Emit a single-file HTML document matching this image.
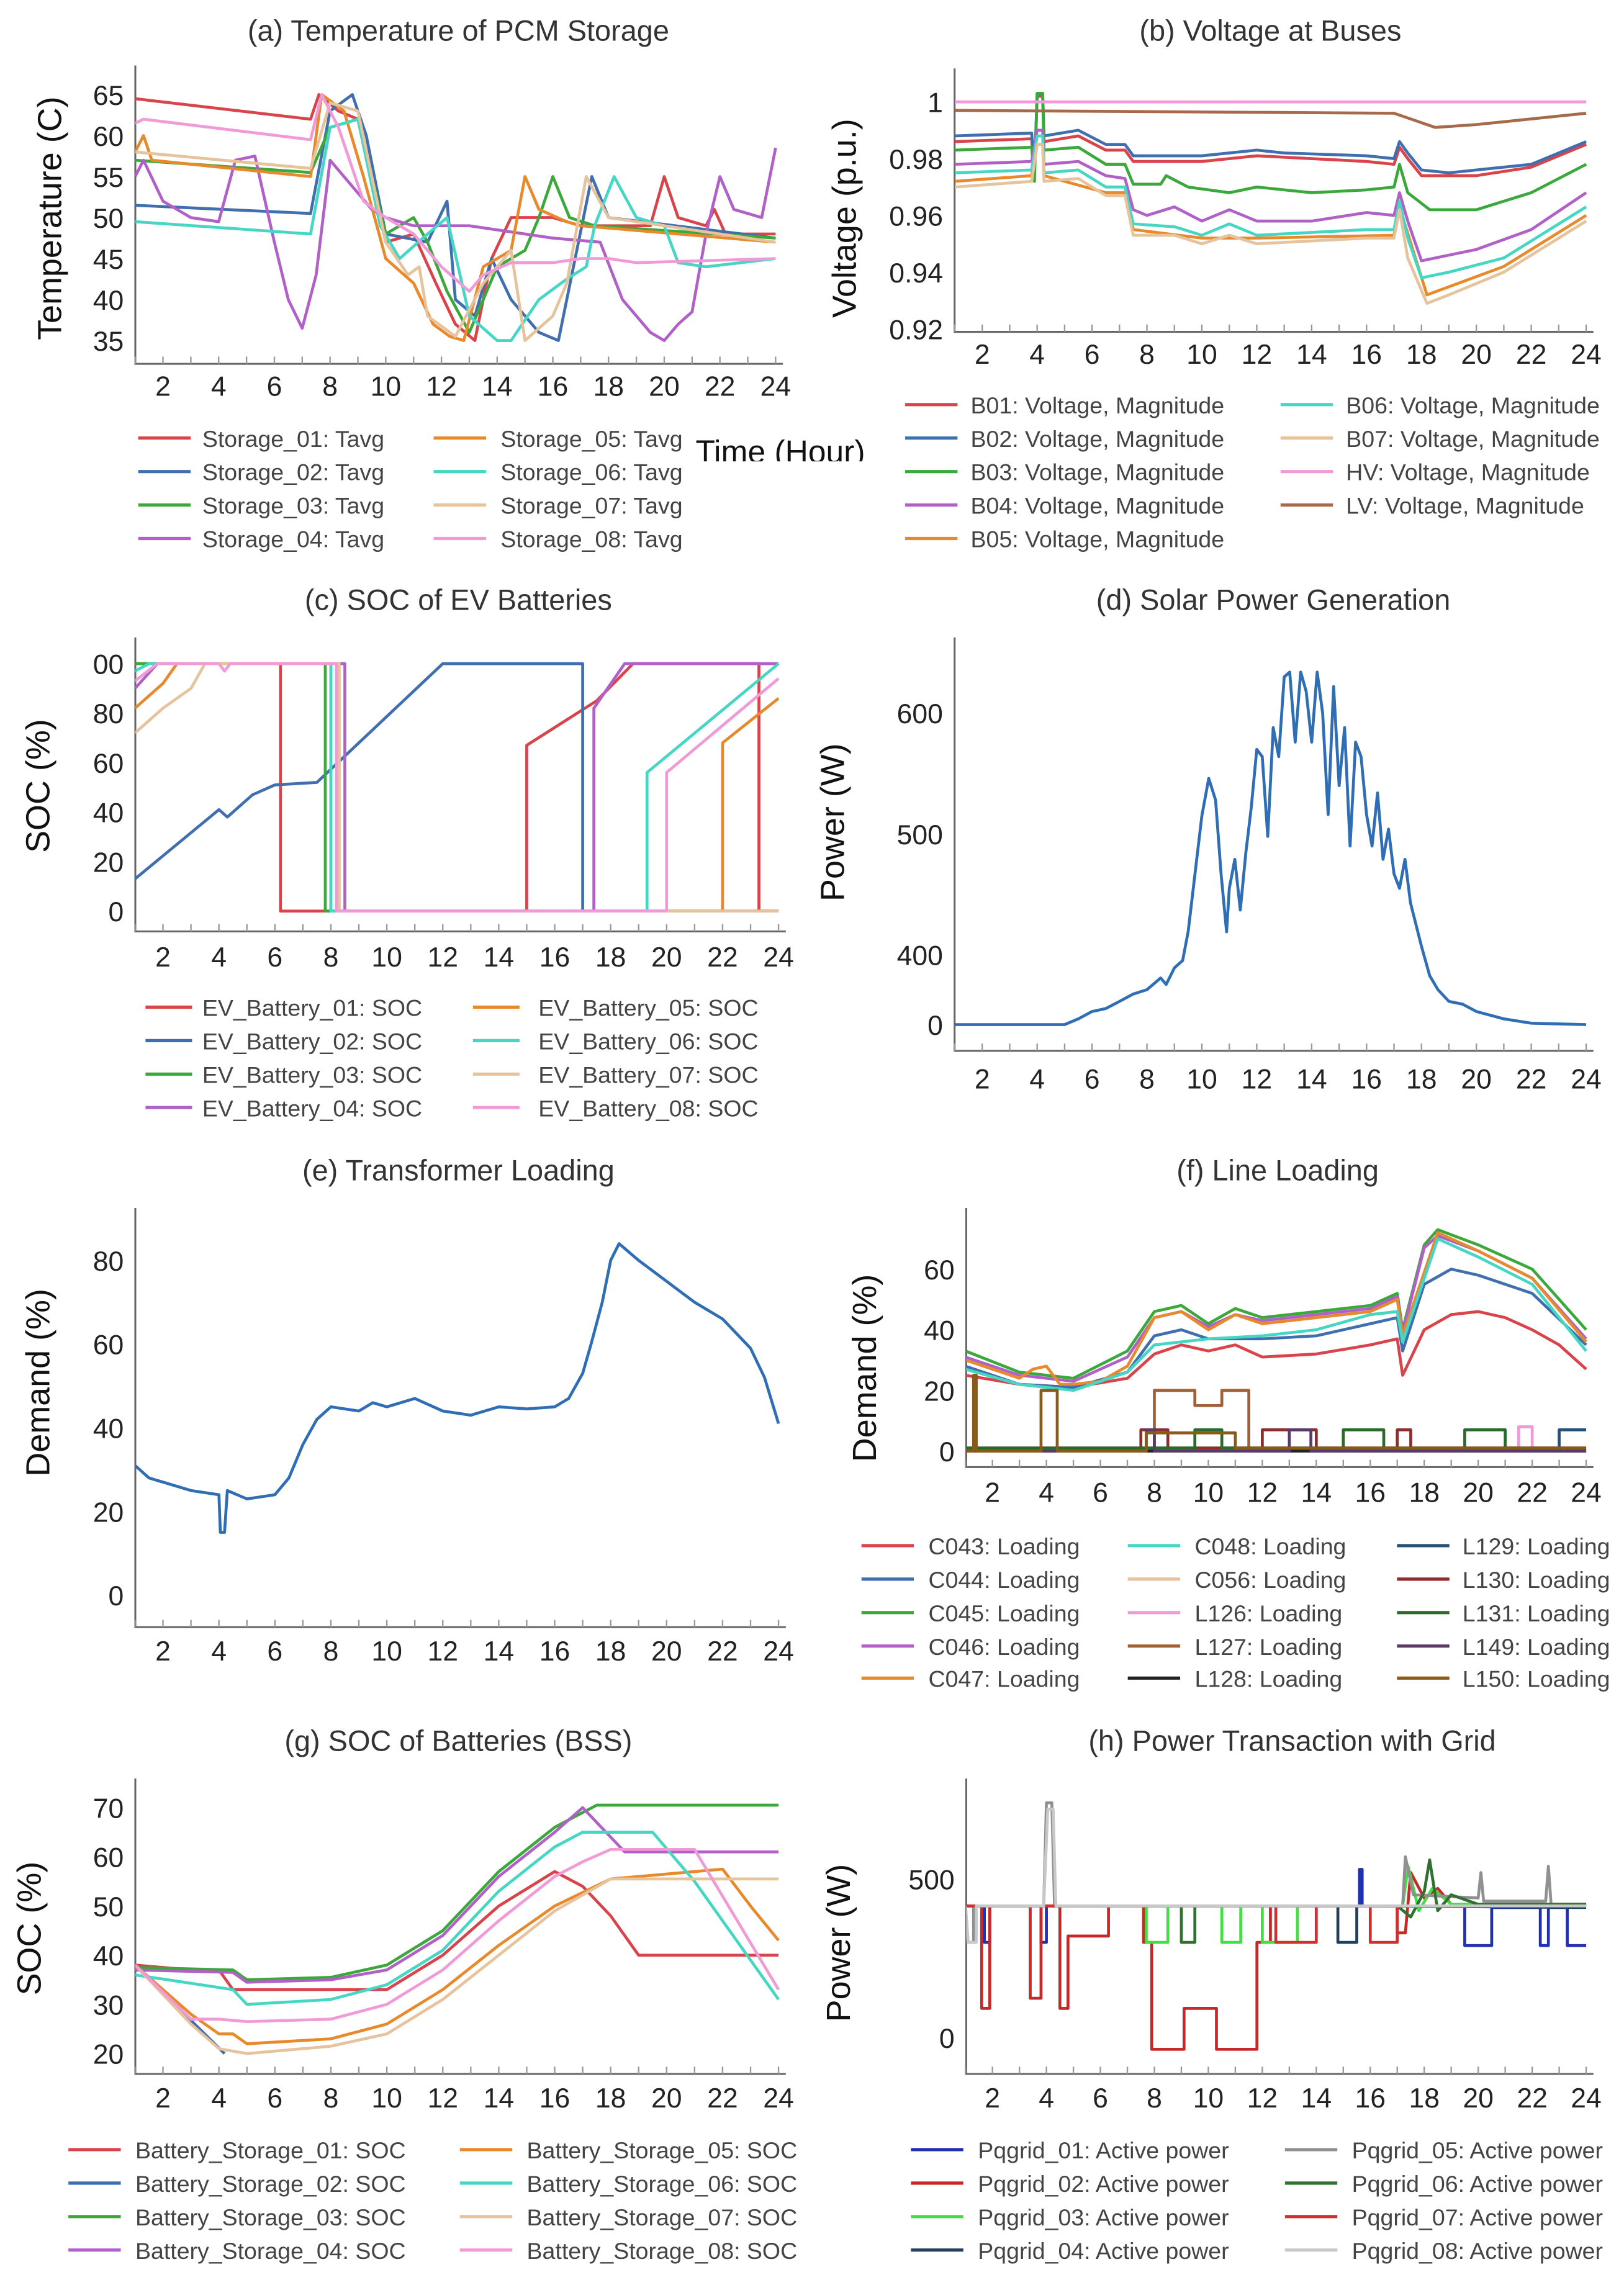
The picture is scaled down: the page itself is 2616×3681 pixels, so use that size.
<!DOCTYPE html>
<html><head><meta charset="utf-8">
<style>
html,body{margin:0;padding:0;background:#fff;}
svg{display:block;}
text{font-family:"Liberation Sans",sans-serif;}
.narrow{font-family:"Liberation Sans Narrow","Liberation Sans",sans-serif;}
</style></head>
<body>
<svg id="fig" xmlns="http://www.w3.org/2000/svg" width="2616" height="3681" viewBox="0 0 1116 1570" preserveAspectRatio="none">
<defs><clipPath id="timeclip"><rect x="440" y="290" width="170" height="27"/></clipPath></defs>
<rect x="0" y="0" width="1116" height="1570" fill="#fff"/>
<text x="478" y="318" font-size="22" fill="#111" clip-path="url(#timeclip)">Time (Hour)</text>
</svg>
<script>
// ---------- data ----------
const xTickLabels = [2,4,6,8,10,12,14,16,18,20,22,24];
// (a) PCM temperature
const aTicks = [35,40,45,50,55,60,65];
const aS01 = [[1,64.5],[7.3,62],[7.6,65],[8.3,63],[9,62],[10,47],[11,48],[11.8,42],[12.5,37],[13.2,35],[13.8,45],[14.5,50],[16,50],[17,49],[19.5,49],[20,55],[20.5,50],[21.5,49],[21.8,51],[22.2,48],[24,48]];
const aS02 = [[1,51.5],[7.3,50.5],[8,63],[8.8,65],[9.3,60],[10,48],[11.5,47],[12.2,52],[12.5,40],[13.2,38],[13.8,45],[14.5,40],[15.5,36],[16.2,35],[16.8,45],[17.4,55],[18,50],[24,47.5]];
const aS03 = [[1,57],[7.3,55.5],[8,61],[9,62],[10,48],[11,50],[11.5,47],[12.2,41],[13,36],[14,44],[15,46],[15.5,50],[16,55],[16.6,50],[17.5,49],[24,47.5]];
const aS04 = [[1,55],[1.3,57],[2,52],[3,50],[4,49.5],[4.6,57],[5.3,57.5],[6,47],[6.5,40],[7,36.5],[7.5,43],[8,57],[8.5,55],[9.5,51],[10,50],[11,49],[13,49],[15,48],[16,47.5],[17.7,47],[18.5,40],[19.5,36],[20,35],[20.5,37],[21,38.5],[21.5,48],[22,55],[22.5,51],[23.5,50],[24,58.5]];
const aS05 = [[1,58],[1.3,60],[1.6,57],[7.3,55],[7.7,65],[8.5,63],[9.2,55],[10,45],[11,42],[11.7,37],[12.3,35.5],[12.8,35],[13.5,44],[14.5,46],[15,55],[15.5,51],[16.5,49.5],[17,49],[24,47]];
const aS06 = [[1,49.5],[7.3,48],[8,61],[9,62],[9.8,49],[10.5,45],[11.5,48],[12.2,50],[13,38],[14,35],[14.5,35],[15.5,40],[16.5,42.5],[17.2,44],[17.5,49],[18.2,55],[19,50],[20,49],[20.5,44.5],[21.5,44],[24,45]];
const aS07 = [[1,58],[7.3,56],[8,64],[9,63],[10,47],[10.8,43],[11.2,44],[11.5,38],[12.5,35.5],[13.5,42],[14.5,46],[15,35],[16,38],[16.5,42],[17.2,55],[18,50],[24,47]];
const aS08 = [[1,61.5],[1.3,62],[7.3,59.5],[7.7,65],[8.3,61],[9.2,52],[10,50],[11,48],[12,44],[13,41],[13.5,43],[14.5,44.5],[16,44.5],[17,45],[18,45],[19,44.5],[24,45]];
// (b) bus voltages
const bTicks = [0.92,0.94,0.96,0.98,1];
const bB01 = [[1,0.986],[3.8,0.987],[3.9,0.974],[4,1.002],[4.2,1.002],[4.25,0.986],[5.5,0.988],[6.5,0.983],[7.2,0.983],[7.5,0.979],[10,0.979],[12,0.981],[16,0.979],[17,0.978],[17.2,0.984],[17.5,0.98],[18,0.974],[20,0.974],[22,0.977],[24,0.985]];
const bB02 = [[1,0.988],[3.8,0.989],[3.9,0.975],[4,1.003],[4.2,1.003],[4.25,0.988],[5.5,0.990],[6.5,0.985],[7.2,0.985],[7.5,0.981],[10,0.981],[12,0.983],[13,0.982],[16,0.981],[17,0.980],[17.2,0.986],[17.5,0.982],[18,0.976],[19,0.975],[20,0.976],[22,0.978],[24,0.986]];
const bB03 = [[1,0.983],[3.8,0.984],[3.9,0.972],[4,1.003],[4.2,1.003],[4.25,0.983],[5.5,0.984],[6.5,0.978],[7.2,0.978],[7.5,0.971],[8.5,0.971],[8.7,0.974],[9.5,0.970],[11,0.968],[12,0.970],[14,0.968],[16,0.969],[17,0.970],[17.2,0.978],[17.5,0.968],[18.3,0.962],[20,0.962],[22,0.968],[24,0.978]];
const bB04 = [[1,0.978],[3.8,0.979],[4,0.99],[4.2,0.99],[4.25,0.978],[5.5,0.979],[6.5,0.974],[7.2,0.973],[7.5,0.962],[8,0.960],[9,0.963],[10,0.958],[11,0.962],[12,0.958],[14,0.958],[16,0.961],[17,0.960],[17.2,0.968],[17.5,0.958],[18,0.944],[19,0.946],[20,0.948],[22,0.955],[24,0.968]];
const bB05 = [[1,0.972],[3.8,0.974],[4,0.985],[4.2,0.985],[4.25,0.974],[6.5,0.968],[7.2,0.968],[7.5,0.955],[10,0.952],[12,0.952],[17,0.953],[17.2,0.963],[18.2,0.932],[21,0.942],[24,0.960]];
const bB06 = [[1,0.975],[3.8,0.976],[4,0.988],[4.2,0.988],[4.25,0.975],[5.5,0.976],[6.5,0.970],[7.2,0.970],[7.5,0.957],[9,0.956],[10,0.953],[11,0.957],[12,0.953],[16,0.955],[17,0.955],[17.2,0.965],[17.5,0.952],[18,0.938],[19,0.940],[21,0.945],[24,0.963]];
const bB07 = [[1,0.970],[3.8,0.972],[4,0.985],[4.2,0.985],[4.25,0.972],[5.5,0.973],[6.5,0.967],[7.2,0.967],[7.5,0.953],[9,0.953],[10,0.950],[11,0.953],[12,0.950],[16,0.952],[17,0.952],[17.2,0.962],[17.5,0.945],[18.2,0.929],[19,0.932],[21,0.940],[24,0.958]];
const bHV = [[1,1],[24,1]];
const bLV = [[1,0.997],[17,0.996],[18.5,0.991],[20,0.992],[24,0.996]];
// (c) EV SOC
const cTicks = [0,20,40,60,80,100];
const cE01 = [[1,100],[6.2,100],[6.2,0],[15,0],[15,67],[17.5,85],[18.8,100],[23.3,100],[23.3,0],[24,0]];
const cE02 = [[1,13],[4,41],[4.3,38],[5.2,47],[6,51],[7.5,52],[12,100],[17,100],[17,0],[24,0]];
const cE03 = [[1,100],[7.8,100],[7.8,0],[24,0]];
const cE04 = [[1,90],[1.8,100],[8.5,100],[8.5,0],[17.4,0],[17.4,82],[18.5,100],[24,100]];
const cE05 = [[1,82],[2,92],[2.5,100],[8,100],[8,0],[22,0],[22,68],[24,86]];
const cE06 = [[1,97],[1.5,100],[8,100],[8,0],[19.3,0],[19.3,56],[24,100]];
const cE07 = [[1,72],[2,82],[3,90],[3.5,100],[8.3,100],[8.3,0],[24,0]];
const cE08 = [[1,93],[1.8,100],[4,100],[4.2,97],[4.4,100],[8.2,100],[8.2,0],[20,0],[20,56],[24,94]];
// (d) solar
const dTicks = [0,400,500,600];
const dSolar = [[1,0],[5,0],[5.5,33],[6,75],[6.5,92],[7,133],[7.5,175],[8,200],[8.5,267],[8.7,230],[9,325],[9.3,367],[9.5,419],[9.75,467],[10,515],[10.25,546],[10.5,528],[10.7,467],[10.9,419],[11,455],[11.2,479],[11.4,437],[11.6,484],[11.8,522],[12,570],[12.2,564],[12.4,498],[12.6,588],[12.8,564],[13,630],[13.2,634],[13.4,576],[13.6,634],[13.8,618],[14,576],[14.2,634],[14.4,600],[14.6,516],[14.8,622],[15,540],[15.2,588],[15.4,490],[15.6,576],[15.8,564],[16,516],[16.2,490],[16.4,534],[16.6,479],[16.8,504],[17,467],[17.2,455],[17.4,479],[17.6,443],[17.8,425],[18,407],[18.3,280],[18.6,200],[19,133],[19.5,117],[20,75],[21,33],[22,8],[24,0]];
// (e) transformer
const eTicks = [0,20,40,60,80];
const eLoad = [[1,31],[1.5,28],[2,27],[3,25],[4,24],[4.05,15],[4.2,15],[4.3,25],[5,23],[6,24],[6.5,28],[7,36],[7.5,42],[8,45],[9,44],[9.5,46],[10,45],[11,47],[12,44],[13,43],[14,45],[15,44.5],[16,45],[16.5,47],[17,53],[17.3,60],[17.7,70],[18,80],[18.3,84],[19,80],[20,75],[21,70],[22,66],[23,59],[23.5,52],[24,41]];
// (f) line loading
const fTicks = [0,20,40,60];
const fC043 = [[1,25],[3,22],[5,21],[7,24],[8,32],[9,35],[10,33],[11,35],[12,31],[14,32],[16,35],[17,37],[17.2,25],[18,40],[19,45],[20,46],[21,44],[22,40],[23,35],[24,27]];
const fC044 = [[1,28],[3,22],[5,21],[7,26],[8,38],[9,40],[10,37],[12,37],[14,38],[16,42],[17,44],[17.2,33],[18,55],[19,60],[20,58],[22,52],[24,35]];
const fC045 = [[1,33],[3,26],[5,24],[7,33],[8,46],[9,48],[10,42],[11,47],[12,44],[14,46],[16,48],[17,52],[17.2,40],[18,68],[18.5,73],[20,68],[22,60],[24,40]];
const fC046 = [[1,31],[3,25],[5,23],[7,31],[8,44],[9,46],[10,41],[11,45],[12,43],[14,45],[16,47],[17,51],[17.2,39],[18,67],[18.5,71],[20,66],[22,57],[24,37]];
const fC047 = [[1,30],[3,24],[3.5,27],[4,28],[4.5,22],[5,22],[6,23],[7,28],[8,44],[9,46],[10,40],[11,45],[12,42],[14,44],[16,46],[17,50],[17.2,38],[18.5,72],[20,66],[22,57],[24,36]];
const fC048 = [[1,27],[3,22],[5,20],[7,26],[8,35],[10,37],[12,38],[14,40],[16,45],[17,46],[17.2,36],[18.5,70],[20,64],[22,55],[24,33]];
const fC056 = [[1,1],[24,1]];
const fL126 = [[1,0],[21.5,0],[21.5,8],[22,8],[22,0],[24,0]];
const fL127 = [[1,0],[8,0],[8,20],[9.5,20],[9.5,15],[10.5,15],[10.5,20],[11.5,20],[11.5,0],[24,0]];
const fL128 = [[1,0],[24,0]];
const fL129 = [[1,1],[23,1],[23,7],[24,7]];
const fL130 = [[1,1],[7.5,1],[7.5,7],[8.5,7],[8.5,1],[12,1],[12,7],[14,7],[14,1],[17,1],[17,7],[17.5,7],[17.5,1],[24,1]];
const fL131 = [[1,1],[9.5,1],[9.5,7],[10.5,7],[10.5,1],[15,1],[15,7],[16.5,7],[16.5,1],[19.5,1],[19.5,7],[21,7],[21,1],[24,1]];
const fL149 = [[1,0],[7.7,0],[7.7,7],[8,7],[8,0],[13,0],[13,7],[13.8,7],[13.8,0],[24,0]];
const fL150 = [[1,0],[1.3,0],[1.3,25],[1.4,25],[1.4,0],[3.8,0],[3.8,20],[4.4,20],[4.4,0],[7.7,0],[7.7,6],[11,6],[11,1],[24,1]];
// (g) BSS SOC
const gTicks = [20,30,40,50,60,70];
const gB01 = [[1,38],[3,37],[4,37],[4.5,33],[10,33],[12,40],[14,50],[16,57],[17,54],[18,48],[19,40],[24,40]];
const gB02 = [[1,38],[4.2,20]];
const gB03 = [[1,37.5],[4.5,37],[5,35],[8,35.5],[10,38],[12,45],[14,57],[16,66],[17.5,70.5],[24,70.5]];
const gB04 = [[1,37],[4.5,36.5],[5,34.5],[8,35],[10,37],[12,44],[14,56],[16,65],[17,70],[18,64],[18.5,61],[24,61]];
const gB05 = [[1,38],[3,28],[4,24],[4.5,24],[5,22],[8,23],[10,26],[12,33],[14,42],[16,50],[18,55.5],[22,57.5],[23,50],[24,43]];
const gB06 = [[1,36],[4.5,33],[5,30],[8,31],[10,34],[12,41],[14,53],[16,62],[17,65],[19.5,65],[21,55],[24,31]];
const gB07 = [[1,38],[3,26],[4,21],[5,20],[8,21.5],[10,24],[12,31],[14,40],[16,49],[18,55.5],[24,55.5]];
const gB08 = [[1,38],[3,27],[4,27],[5,26.5],[8,27],[10,30],[12,37],[14,47],[16,56],[17,59],[18,61.5],[21,61.5],[24,33]];
// (h) grid power
const hTicks = [0,500];
const hP01 = [[1,415],[1.7,415],[1.7,300],[1.9,300],[1.9,415],[3.8,415],[3.8,300],[4,300],[4,415],[15.6,415],[15.6,530],[15.7,530],[15.7,415],[19.5,415],[19.5,290],[20.5,290],[20.5,410],[22.3,410],[22.3,290],[22.6,290],[22.6,410],[23.3,410],[23.3,290],[24,290]];
const hP02 = [[1,415],[1.6,415],[1.6,92],[1.9,92],[1.9,415],[3.4,415],[3.4,124],[3.8,124],[3.8,415],[4.5,415],[4.5,92],[4.8,92],[4.8,320],[6.3,320],[6.3,415],[7.6,415],[7.6,300],[7.9,300],[7.9,-37],[9.1,-37],[9.1,92],[10.3,92],[10.3,-37],[11.8,-37],[11.8,300],[12.3,300],[12.3,415],[17,415],[17,330],[17.3,330],[17.5,520],[18,440],[18.5,470],[19,420],[24,415]];
const hP03 = [[1,415],[7.7,415],[7.7,300],[8.5,300],[8.5,415],[10.5,415],[10.5,300],[11.2,300],[11.2,415],[12,415],[12,300],[13.3,300],[13.3,415],[17.2,415],[17.4,540],[17.8,400],[18.3,470],[19,420],[24,420]];
const hP04 = [[1,415],[14.8,415],[14.8,300],[15.5,300],[15.5,415],[24,410]];
const hP05 = [[1,415],[1.1,300],[1.3,300],[1.3,415],[3.9,415],[4,740],[4.2,740],[4.3,415],[17.2,415],[17.3,570],[17.6,450],[20,440],[20.1,520],[20.2,430],[22.5,430],[22.6,540],[22.7,420],[24,420]];
const hP06 = [[1,415],[9,415],[9,300],[9.5,300],[9.5,415],[17,415],[17.5,380],[18,460],[18.2,560],[18.5,400],[19,450],[20,420],[24,420]];
const hP07 = [[1,415],[12.5,415],[12.5,300],[14,300],[14,415],[16,415],[16,300],[17,300],[17,415],[24,415]];
const hP08 = [[1,415],[1.1,300],[1.4,300],[1.4,415],[3.9,415],[4.05,720],[4.25,720],[4.35,415],[24,415]];

// ---------- rendering ----------
const NS = "http://www.w3.org/2000/svg";
const svg = document.getElementById('fig');
function mk(tag, attrs, parent){
  const e = document.createElementNS(NS, tag);
  for (const k in attrs) e.setAttribute(k, attrs[k]);
  (parent||svg).appendChild(e);
  return e;
}
const C = {red:'#d9434a',blue:'#3f6fae',green:'#3aa83a',purple:'#b160c8',orange:'#e8892c',teal:'#45d6c4',tan:'#e6c39c',pink:'#f09ad8',brown:'#a66a4a'};

function linY(v1,p1,v2,p2){ return v => p1 + (v-v1)*(p2-p1)/(v2-v1); }

const panels = [
 {id:'a', title:'(a) Temperature of PCM Storage', tx:315, ty:28, x2:112, x24:533, y:linY(65,65,35,234), L:93,T:45,B:250,R:538, xlab:272, ticks:aTicks, fmt:v=>String(v), ytitle:'Temperature (C)', ytx:42, yty:150,
  series:[['Storage_01: Tavg',aS01,C.red],['Storage_02: Tavg',aS02,C.blue],['Storage_03: Tavg',aS03,C.green],['Storage_04: Tavg',aS04,C.purple],['Storage_05: Tavg',aS05,C.orange],['Storage_06: Tavg',aS06,C.teal],['Storage_07: Tavg',aS07,C.tan],['Storage_08: Tavg',aS08,C.pink]],
  legend:{cols:[[95,139],[298,344]], rows:[301,324,347,370], per:4, len:36}},
 {id:'b', title:'(b) Voltage at Buses', tx:873, ty:28, x2:675, x24:1090, y:linY(1,70,0.92,226), L:656,T:47,B:228,R:1095, xlab:250, ticks:bTicks, fmt:v=>v===1?'1':v.toFixed(2), ytitle:'Voltage (p.u.)', ytx:588, yty:150,
  series:[['B01: Voltage, Magnitude',bB01,C.red],['B02: Voltage, Magnitude',bB02,C.blue],['B03: Voltage, Magnitude',bB03,C.green],['B04: Voltage, Magnitude',bB04,C.purple],['B05: Voltage, Magnitude',bB05,C.orange],['B06: Voltage, Magnitude',bB06,C.teal],['B07: Voltage, Magnitude',bB07,C.tan],['HV: Voltage, Magnitude',bHV,C.pink],['LV: Voltage, Magnitude',bLV,C.brown]],
  legend:{cols:[[622,667],[880,925]], rows:[278,301,324,347,370], per:5, len:36}},
 {id:'c', title:'(c) SOC of EV Batteries', tx:315, ty:419, x2:112, x24:535, y:linY(100,456,0,626), L:93,T:438,B:640,R:540, xlab:664, ticks:cTicks, fmt:v=>v===100?'00':String(v), ytitle:'SOC (%)', ytx:34, yty:540,
  series:[['EV_Battery_01: SOC',cE01,C.red],['EV_Battery_02: SOC',cE02,C.blue],['EV_Battery_03: SOC',cE03,C.green],['EV_Battery_04: SOC',cE04,C.purple],['EV_Battery_05: SOC',cE05,C.orange],['EV_Battery_06: SOC',cE06,C.teal],['EV_Battery_07: SOC',cE07,C.tan],['EV_Battery_08: SOC',cE08,C.pink]],
  legend:{cols:[[100,139],[325,370]], rows:[692,715,738,761], per:4, len:32}},
 {id:'d', title:'(d) Solar Power Generation', tx:875, ty:419, x2:675, x24:1090, y:v=> v<=400 ? 704-(v/400)*48 : 656-(v-400)*0.83, L:656,T:438,B:722,R:1095, xlab:748, ticks:dTicks, fmt:v=>String(v), ytitle:'Power (W)', ytx:580, yty:565,
  series:[['Solar',dSolar,'#2f6db5']], legend:null},
 {id:'e', title:'(e) Transformer Loading', tx:315, ty:811, x2:112, x24:535, y:linY(80,866,0,1096), L:93,T:830,B:1118,R:540, xlab:1141, ticks:eTicks, fmt:v=>String(v), ytitle:'Demand (%)', ytx:34, yty:950,
  series:[['Transformer',eLoad,'#2f6db5']], legend:null},
 {id:'f', title:'(f) Line Loading', tx:878, ty:811, x2:682, x24:1090, y:linY(60,872,0,997), L:664,T:830,B:1008,R:1095, xlab:1032, ticks:fTicks, fmt:v=>String(v), ytitle:'Demand (%)', ytx:602, yty:940,
  series:[['C043: Loading',fC043,C.red],['C044: Loading',fC044,C.blue],['C045: Loading',fC045,C.green],['C046: Loading',fC046,C.purple],['C047: Loading',fC047,C.orange],['C048: Loading',fC048,C.teal],['C056: Loading',fC056,C.tan],['L126: Loading',fL126,C.pink],['L127: Loading',fL127,'#a0603a'],['L128: Loading',fL128,'#222222'],['L129: Loading',fL129,'#25507a'],['L130: Loading',fL130,'#8b2e2e'],['L131: Loading',fL131,'#2a6a2a'],['L149: Loading',fL149,'#5a3a6a'],['L150: Loading',fL150,'#8a5a1a']],
  legend:{cols:[[592,638],[775,821],[960,1005]], rows:[1062,1085,1108,1131,1153], per:5, len:36}},
 {id:'g', title:'(g) SOC of Batteries (BSS)', tx:315, ty:1203, x2:112, x24:535, y:linY(70,1242,20,1411), L:93,T:1222,B:1425,R:540, xlab:1448, ticks:gTicks, fmt:v=>String(v), ytitle:'SOC (%)', ytx:28, yty:1325,
  series:[['Battery_Storage_01: SOC',gB01,C.red],['Battery_Storage_02: SOC',gB02,C.blue],['Battery_Storage_03: SOC',gB03,C.green],['Battery_Storage_04: SOC',gB04,C.purple],['Battery_Storage_05: SOC',gB05,C.orange],['Battery_Storage_06: SOC',gB06,C.teal],['Battery_Storage_07: SOC',gB07,C.tan],['Battery_Storage_08: SOC',gB08,C.pink]],
  legend:{cols:[[47,93],[316,362]], rows:[1477,1500,1523,1546], per:4, len:36}},
 {id:'h', title:'(h) Power Transaction with Grid', tx:888, ty:1203, x2:682, x24:1090, y:linY(500,1291,0,1400), L:664,T:1222,B:1425,R:1095, xlab:1448, ticks:hTicks, fmt:v=>String(v), ytitle:'Power (W)', ytx:584, yty:1335,
  series:[['Pqgrid_01: Active power',hP01,'#2030b0'],['Pqgrid_02: Active power',hP02,'#c82828'],['Pqgrid_03: Active power',hP03,'#40e040'],['Pqgrid_04: Active power',hP04,'#204060'],['Pqgrid_05: Active power',hP05,'#909090'],['Pqgrid_06: Active power',hP06,'#307030'],['Pqgrid_07: Active power',hP07,'#d03030'],['Pqgrid_08: Active power',hP08,'#c8c8c8']],
  legend:{cols:[[626,672],[883,929]], rows:[1477,1500,1523,1546], per:4, len:36}}
];

panels.forEach(p => {
  const xa = h => p.x2 + (h-2)*(p.x24-p.x2)/22;
  const g = mk('g', {});
  
  
  const t = mk('text', {x:p.tx, y:p.ty, 'font-size':20, 'text-anchor':'middle', fill:'#333', class:'narrow'}, g);
  t.textContent = p.title;
  
  
  const yt = mk('text', {x:0, y:0, 'font-size':23, 'text-anchor':'middle', fill:'#111', transform:`translate(${p.ytx},${p.yty}) rotate(-90)`}, g);
  yt.textContent = p.ytitle;
  
  
  const cp = mk('clipPath', {id:'clip'+p.id}, g);
  mk('rect', {x:p.L, y:p.T, width:p.R-p.L+2, height:p.B-p.T}, cp);
  const ax = mk('path', {d:`M${p.L},${p.T}V${p.B}H${p.R}`, stroke:'#666', 'stroke-width':1.3, fill:'none'}, g);
  
  
  for (let h=1; h<=24; h++) {
    mk('line', {x1:xa(h), x2:xa(h), y1:p.B, y2:p.B-5, stroke:'#999', 'stroke-width':1}, g);
  }
  xTickLabels.forEach(h => {
    const tl = mk('text', {x:xa(h), y:p.xlab, 'font-size':19, 'text-anchor':'middle', fill:'#222'}, g);
    tl.textContent = String(h);
    
    
  });
  p.ticks.forEach(v => {
    const tl = mk('text', {x:p.L-8, y:p.y(v)+7, 'font-size':19, 'text-anchor':'end', fill:'#222'}, g);
    tl.textContent = p.fmt(v);
    
    
  });
  const sg = mk('g', {'clip-path':`url(#clip${p.id})`}, g);
  p.series.forEach((s, i) => {
    const d = s[1].map((pt, j) => (j?'L':'M') + xa(pt[0]).toFixed(2) + ',' + p.y(pt[1]).toFixed(2)).join('');
    const path = mk('path', {d:d, stroke:s[2], 'stroke-width':2.0, fill:'none', 'stroke-linejoin':'round'}, sg);
    
    
    if (p.legend) {
      const col = Math.floor(i / p.legend.per), row = i % p.legend.per;
      const [lx, tx] = p.legend.cols[col];
      const ly = p.legend.rows[row];
      const ll = mk('line', {x1:lx, x2:lx+p.legend.len, y1:ly, y2:ly, stroke:s[2], 'stroke-width':2.2}, g);
      
      
      const lt = mk('text', {x:tx, y:ly+6, 'font-size':16, fill:'#444', class:'narrow'}, g);
      lt.textContent = s[0];
      
      
    }
  });
});
</script>
</body></html>
